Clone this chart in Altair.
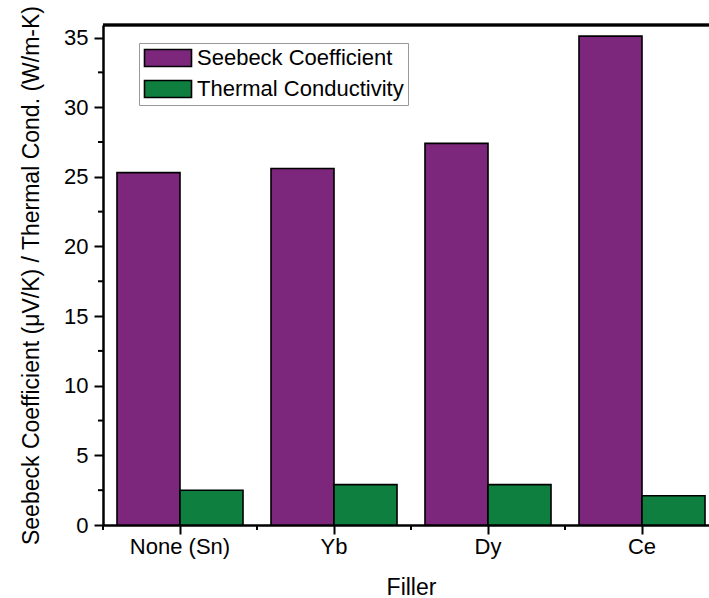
import altair as alt
import pandas as pd

# Filler elements on the x axis
fillers = ["None (Sn)", "Yb", "Dy", "Ce"]
series = ["Seebeck Coefficient", "Thermal Conductivity"]
seebeck = [25.3, 25.6, 27.4, 35.1]          # µV/K
thermal = [2.5, 2.9, 2.9, 2.1]              # W/m-K
colors = ["#7C277B", "#0F7F3F"]
y_major = [0, 5, 10, 15, 20, 25, 30, 35]
y_minor = [2.5, 7.5, 12.5, 17.5, 22.5, 27.5, 32.5]

rows = []
for f, s, t in zip(fillers, seebeck, thermal):
    rows.append({"Filler": f, "series": series[0], "value": s})
    rows.append({"Filler": f, "series": series[1], "value": t})
df = pd.DataFrame(rows)
minor_df = pd.DataFrame({"tick": y_minor})
cat_df = pd.DataFrame({"Filler": fillers})

FONT = "Liberation Sans"
W, H = 606, 500
XRANGE = 616
Y_TITLE = "Seebeck Coefficient (\u03bcV/K) / Thermal Cond. (W/m-K)"

xscale = alt.Scale(range=[0, XRANGE], paddingInner=0, paddingOuter=0)
yscale = alt.Scale(domain=[0, 35.9], nice=False, zero=True)

x_axis = alt.Axis(title="Filler", labelAngle=0, tickSize=9,
                  tickWidth=2, tickColor="black", domainColor="black",
                  domainWidth=2.5, labelFontSize=22, labelColor="#000",
                  labelPadding=2, titleFontSize=23, titleFontWeight="normal",
                  titleColor="#000", titlePadding=19, labelFont=FONT,
                  titleFont=FONT)
y_axis = alt.Axis(title=Y_TITLE, values=y_major, tickSize=9, tickWidth=2,
                  tickColor="black", domainColor="black", domainWidth=2.5,
                  labelFontSize=22, labelColor="#000", labelPadding=6,
                  titleFontSize=23, titleFontWeight="normal", titleColor="#000",
                  titlePadding=20, labelFont=FONT, titleFont=FONT, grid=False)

bars = alt.Chart(df).mark_bar(stroke="black", strokeWidth=1.6).encode(
    x=alt.X("Filler:N", sort=fillers, scale=xscale, axis=x_axis),
    xOffset=alt.XOffset("series:N", sort=series,
                        scale=alt.Scale(paddingInner=0, paddingOuter=0.222)),
    y=alt.Y("value:Q", scale=yscale, axis=y_axis),
    color=alt.Color("series:N", sort=series,
                    scale=alt.Scale(domain=series, range=colors),
                    legend=alt.Legend(title=None, orient="none", legendX=36, legendY=18,
                                      fillColor="white", strokeColor="#999",
                                      padding=4, rowPadding=7, labelLimit=400,
                                      symbolType="M-2.765,-1H2.765V1H-2.765Z",
                                      symbolSize=289, symbolOffset=14,
                                      symbolStrokeColor="black",
                                      symbolStrokeWidth=1.6, symbolOpacity=1,
                                      labelFontSize=22, labelFont=FONT, labelColor="#000",
                                      labelOffset=18)),
)

# Minor ticks on the y axis, halfway between the labelled ones
y_minor_ticks = alt.Chart(minor_df).mark_rule(color="black", strokeWidth=2).encode(
    y=alt.Y("tick:Q", scale=yscale, axis=y_axis),
    x=alt.value(-5), x2=alt.value(0),
)

# Minor ticks on the x axis, at the boundaries between fillers
x_minor_ticks = alt.Chart(cat_df).mark_rule(color="black", strokeWidth=2).encode(
    x=alt.X("Filler:N", sort=fillers, scale=xscale, bandPosition=0, axis=x_axis),
    y=alt.value(H), y2=alt.value(H + 5),
)

# Top frame line
frame = alt.Chart(cat_df).mark_rule(color="black", strokeWidth=2.5).encode(
    x=alt.value(0), x2=alt.value(XRANGE), y=alt.value(0)
)

chart = alt.layer(bars, y_minor_ticks, x_minor_ticks, frame).properties(
    width=W, height=H,
    autosize=alt.AutoSizeParams(type="none"),
    padding={"left": 103, "top": 25, "right": 0, "bottom": 73},
).configure_view(stroke=None).configure(background="white")

chart.save("out.html", embed_options={"renderer": "svg", "actions": False})
